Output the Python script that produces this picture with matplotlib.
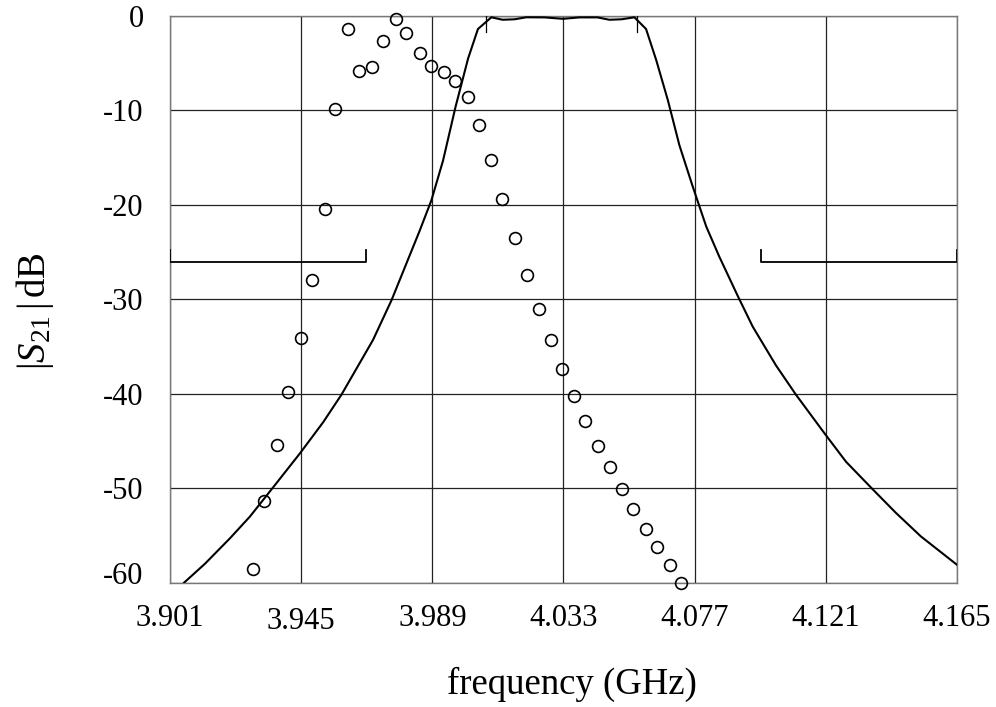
import matplotlib
matplotlib.use("Agg")
import matplotlib.pyplot as plt
import matplotlib.transforms as mtransforms

plt.rcParams['font.family'] = ['Liberation Serif', 'DejaVu Serif']
plt.rcParams['mathtext.fontset'] = 'custom'
plt.rcParams['mathtext.rm'] = 'Liberation Serif'
plt.rcParams['mathtext.it'] = 'Liberation Serif:italic'

# simulated / ideal filter response (GHz, dB)
f_sim = [3.9057, 3.9127, 3.9211, 3.9278, 3.9356, 3.9446, 3.9524, 3.9585,
         3.9691, 3.9753, 3.9848, 3.9887, 3.9926, 3.9968, 4.0010, 4.0043,
         4.0088, 4.0126, 4.0166, 4.0205, 4.0266, 4.0328, 4.0384, 4.0444,
         4.0484, 4.0525, 4.0568, 4.0607, 4.0641, 4.0680, 4.0719, 4.0764,
         4.0809, 4.0853, 4.0914, 4.0965, 4.1043, 4.1110, 4.1206, 4.1278,
         4.1367, 4.1445, 4.1529, 4.1650]
s21_sim = [-60.0, -58.0, -55.3, -53.0, -49.9, -46.3, -43.0, -40.1,
           -34.3, -30.1, -22.7, -19.5, -15.3, -9.6, -4.5, -1.38,
           -0.14, -0.40, -0.35, -0.14, -0.15, -0.30, -0.15, -0.15,
           -0.40, -0.35, -0.14, -1.38, -4.66, -8.9, -13.7, -18.1,
           -22.3, -25.5, -29.6, -32.9, -37.0, -40.1, -44.2, -47.2,
           -50.1, -52.6, -55.1, -58.1]

# measured points
f_meas = [3.9289, 3.9326, 3.9368, 3.9406, 3.9448, 3.9486, 3.9529, 3.9565,
          3.9608, 3.9644, 3.9688, 3.9725, 3.9767, 3.9803, 3.9848, 3.9887,
          3.9928, 3.9965, 4.0010, 4.0046, 4.0088, 4.0125, 4.0169, 4.0206,
          4.0248, 4.0288, 4.0325, 4.0365, 4.0403, 4.0447, 4.0485, 4.0526,
          4.0564, 4.0608, 4.0644, 4.0687, 4.0725]
s21_meas = [-58.5, -51.4, -45.4, -39.8, -34.1, -27.9, -20.4, -9.85,
            -1.41, -5.86, -5.44, -2.61, -0.32, -1.83, -3.92, -5.26,
            -5.97, -6.89, -8.55, -11.51, -15.22, -19.4, -23.5, -27.4,
            -31.0, -34.3, -37.4, -40.25, -42.9, -45.5, -47.8, -50.1,
            -52.2, -54.3, -56.2, -58.1, -60.0]

# spec masks
stop_left = [3.901, 3.9669]
stop_right = [4.0991, 4.165]
stop_level = -26.0
stop_tick = -24.8
pass_edges = [4.0071, 4.0577]
pass_tick = -1.7

xticks = [3.901, 3.945, 3.989, 4.033, 4.077, 4.121, 4.165]
yticks = [0, -10, -20, -30, -40, -50, -60]

fig = plt.figure(figsize=(9.96, 7.07), dpi=100)
ax = fig.add_axes([0.1707, 0.1758, 0.7901, 0.8016])

ax.plot(f_sim, s21_sim, color='black', lw=1.5, zorder=3)
ax.plot(f_meas, s21_meas, linestyle='none', marker='o', markersize=8.5,
        markerfacecolor='none', markeredgecolor='black', markeredgewidth=1.2,
        clip_on=False, zorder=4)

for lo, hi in (stop_left, stop_right):
    ax.plot([lo, lo, hi, hi], [stop_tick, stop_level, stop_level, stop_tick],
            color='black', lw=1.3, zorder=3)
for x in pass_edges:
    ax.plot([x, x], [0, pass_tick], color='black', lw=0.9, zorder=3)
ax.plot(pass_edges, [-0.05, -0.05], color='#888888', lw=1.0, zorder=2)

ax.set_xlim(3.901, 4.165)
ax.set_ylim(-60, 0)
ax.set_xticks(xticks)
ax.set_xticklabels(['%.3f' % v for v in xticks])
ax.set_yticks(yticks)
ax.set_yticklabels([str(v) for v in yticks])
ax.tick_params(length=0, labelsize=22)
ax.tick_params(axis='x', pad=15.5)
ax.tick_params(axis='y', pad=19)
ax.grid(True, color='#222222', lw=0.9)
ax.set_axisbelow(True)
for s in ax.spines.values():
    s.set_color('#777777')
    s.set_linewidth(1.0)

# small label offsets seen in the original
lbl = ax.get_xticklabels()[1]
lbl.set_transform(lbl.get_transform() +
                  mtransforms.ScaledTranslation(0, -3 / 100, fig.dpi_scale_trans))
lbl = ax.get_yticklabels()[-1]
lbl.set_transform(lbl.get_transform() +
                  mtransforms.ScaledTranslation(0, 10 / 100, fig.dpi_scale_trans))

ax.set_xlabel('frequency (GHz)', fontsize=26.5, labelpad=22)
ax.xaxis.label.set_x(0.5 + 8 / 787)
fig.text(35 / 996, 1 - 311 / 707, r'$|S_{21}\,|\,\mathrm{dB}$', rotation=90,
         fontsize=28, ha='center', va='center')

fig.savefig('out.png', dpi=100)
